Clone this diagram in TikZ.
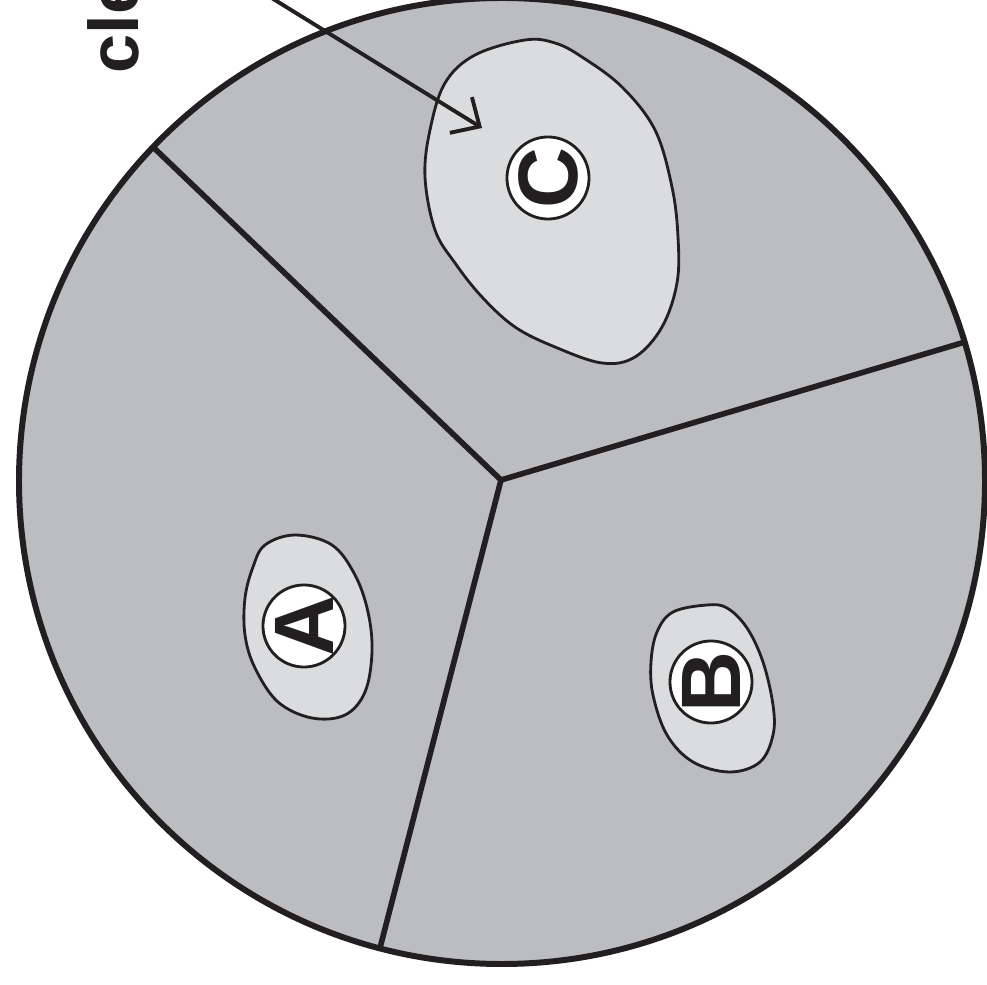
\documentclass[tikz,border=0pt]{standalone}
\usepackage{fontspec}
\setmainfont{Liberation Sans}
\usetikzlibrary{arrows.meta}
\definecolor{agar}{RGB}{188,189,193}
\definecolor{zone}{RGB}{219,220,222}
\definecolor{ink}{RGB}{35,31,32}
\tikzstyle{dish}    = [draw=ink, fill=agar, line width=1.7pt]
\tikzstyle{divider} = [draw=ink, line width=1.6pt]
\tikzstyle{halo}    = [draw=ink, fill=zone, line width=0.8pt]
\tikzstyle{disk}    = [circle, draw=ink, fill=white, line width=0.8pt, minimum size=0.82cm,
                       inner sep=-3pt, rotate=90, text=ink, font=\fontsize{24}{24}\selectfont\bfseries]
\tikzstyle{arrow}   = [-{Straight Barb[length=2.2mm, width=4.2mm]}, draw=ink, line width=1.1pt]

\begin{document}
\begin{tikzpicture}[x=0.01cm, y=-0.01cm]
  \useasboundingbox (0,0) rectangle (987,985);
  \clip (0,0) rectangle (987,985);

  % plate and its three sectors
  \coordinate (hub)   at (501,480);
  \coordinate (rimTL) at (153,147);
  \coordinate (rimR)  at (965,342);
  \coordinate (rimB)  at (380,948);
  \fill[agar] (502,481) circle[radius=483];
  \draw[divider] (hub) -- (rimTL);
  \draw[divider] (hub) -- (rimR);
  \draw[divider] (hub) -- (rimB);

  % zones
  \draw[halo] plot[smooth cycle, tension=0.6] coordinates {
    (525,40) (475,55) (445,83) (430,130) (425,177) (435,230) (455,263) (482,297)
    (515,327) (555,347) (602,363) (635,357) (662,327) (677,283) (678,237)
    (672,187) (655,130) (622,87) (582,57) (555,43)};
  \draw[halo] plot[smooth cycle, tension=0.6] coordinates {
    (295,535) (265,545) (253,567) (245,598) (245,635) (255,668) (278,702) (312,718)
    (345,715) (365,692) (372,652) (368,612) (355,575) (332,545)};
  \draw[halo] plot[smooth cycle, tension=0.6] coordinates {
    (707,605) (673,612) (657,632) (651,662) (653,695) (667,735) (693,762) (730,772)
    (760,762) (773,735) (773,705) (763,662) (747,628) (727,608)};

  % discs
  \node (lblC) [disk] at (548,178) {C};
  \node (lblA) [disk] at (304,626) {A};
  \node (lblB) [disk] at (711,682) {B};

  \draw[dish, fill=none] (502,481) circle[radius=483];

  % label and pointer
  \node (caption) [anchor=base west, rotate=90, text=ink, inner sep=0pt,
                   font=\fontsize{20}{20}\selectfont\bfseries] at (138,74) {cle};
  \coordinate (arrowfrom) at (262,-8);
  \coordinate (arrowto)   at (482,128);
  \draw[arrow] (arrowfrom) -- (arrowto);
\end{tikzpicture}
\end{document}
